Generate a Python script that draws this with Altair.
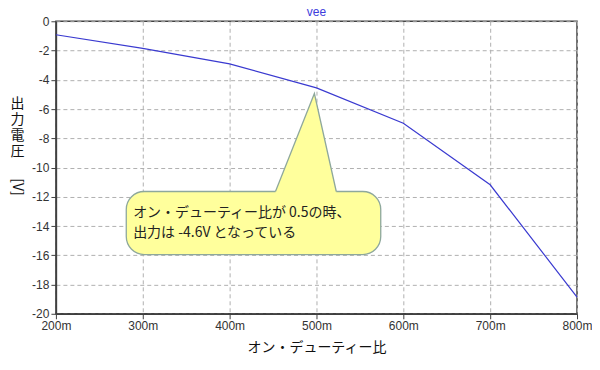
import altair as alt
import pandas as pd

# --- data ---
duty = [0.2, 0.3, 0.4, 0.5, 0.6, 0.7, 0.8]
vee = [-0.92, -1.85, -2.91, -4.55, -6.97, -11.18, -18.86]

x_ticks = [0.2, 0.3, 0.4, 0.5, 0.6, 0.7, 0.8]
y_ticks = [-20, -18, -16, -14, -12, -10, -8, -6, -4, -2, 0]

# callout (in data units)
box_x = [0.281]
box_x2 = [0.574]
box_y = [-11.64]
box_y2 = [-15.95]
tri_x = [0.4528, 0.4976, 0.5228]
tri_y = [-11.64, -4.94, -11.64]
tri_base = [-11.95, -11.95, -11.95]
note_lines = ["オン・デューティー比が 0.5の時、", "出力は -4.6V となっている"]
note_x = [0.2889, 0.2889]
note_y = [-13.14, -14.51]

df = pd.DataFrame({"duty": duty, "vee": vee})
box_df = pd.DataFrame({"x": box_x, "x2": box_x2, "y": box_y, "y2": box_y2})
tri_df = pd.DataFrame({"x": tri_x, "y": tri_y, "yb": tri_base, "o": [0, 1, 2]})
note_df = pd.DataFrame({"t": note_lines, "x": note_x, "y": note_y})
unit_df = pd.DataFrame({"t": ["[V]"]})
title_df = pd.DataFrame({"t": ["vee"]})

xs = alt.Scale(domain=[0.2, 0.8], nice=False, zero=False)
ys = alt.Scale(domain=[-20, 0], nice=False, zero=False)

x_axis = alt.Axis(values=x_ticks, labelExpr="format(datum.value*1000,'d') + 'm'",
                  labelFlush=False, labelOverlap=False,
                  title="オン・デューティー比", titlePadding=9,
                  titleFont="Noto Sans CJK JP", titleFontSize=14,
                  titleFontWeight="normal", titleColor="#111")
y_axis = alt.Axis(values=y_ticks, labelExpr="toString(datum.value)",
                  labelFlush=False, labelOverlap=False,
                  title=["出", "力", "電", "圧"], titleAngle=0,
                  titleAlign="center", titleBaseline="top",
                  titleX=-39, titleY=75, titleLineHeight=16,
                  titleFont="Noto Sans CJK JP", titleFontSize=14,
                  titleFontWeight="normal", titleColor="#111")


def X(f):
    return alt.X(f, scale=xs, axis=x_axis)


def Y(f):
    return alt.Y(f, scale=ys, axis=y_axis)


line = alt.Chart(df).mark_line(color="#3a3ad0", strokeWidth=1.2).encode(
    x=X("duty:Q"), y=Y("vee:Q"))

box = alt.Chart(box_df).mark_rect(fill="#ffff9c", stroke="#8ea89c", strokeWidth=1.3,
                                  cornerRadius=18).encode(
    x=X("x:Q"), x2="x2:Q", y=Y("y:Q"), y2="y2:Q")

tri_fill = alt.Chart(tri_df).mark_area(color="#ffff9c", opacity=1, line=False).encode(
    x=X("x:Q"), y=Y("y:Q"), y2="yb:Q")

tri_edge = alt.Chart(tri_df).mark_line(color="#8ea89c", strokeWidth=1.3).encode(
    x=X("x:Q"), y=Y("y:Q"), order="o:Q")

note = alt.Chart(note_df).mark_text(align="left", baseline="middle", fontSize=14,
                                    font="Noto Sans CJK JP", color="#222").encode(
    x=X("x:Q"), y=Y("y:Q"), text="t:N")

unit = alt.Chart(unit_df).mark_text(angle=90, fontSize=14, font="Noto Sans CJK JP",
                                    color="#111", align="center", baseline="middle").encode(
    x=alt.value(-39), y=alt.value(166), text="t:N")

title = alt.Chart(title_df).mark_text(fontSize=12, font="Liberation Sans", color="#3c3cdc",
                                      align="center", baseline="alphabetic").encode(
    x=alt.value(261), y=alt.value(-5.5), text="t:N")

chart = alt.layer(line, box, tri_fill, tri_edge, note, unit, title).properties(
    width=522, height=293,
    autosize=alt.AutoSizeParams(type="none"),
    padding={"left": 48, "top": 13, "right": 15, "bottom": 48},
).configure_view(stroke="#404040", strokeWidth=1.5).configure_axis(
    labelFont="Liberation Sans", labelFontSize=12, labelColor="#333",
    domainColor="#404040", domainWidth=1.5, tickColor="#404040", tickSize=5,
    gridColor="#b0b0b0", gridDash=[4, 3], gridWidth=1, labelPadding=2,
)

chart.save("out.html", embed_options={"renderer": "svg", "actions": False})
